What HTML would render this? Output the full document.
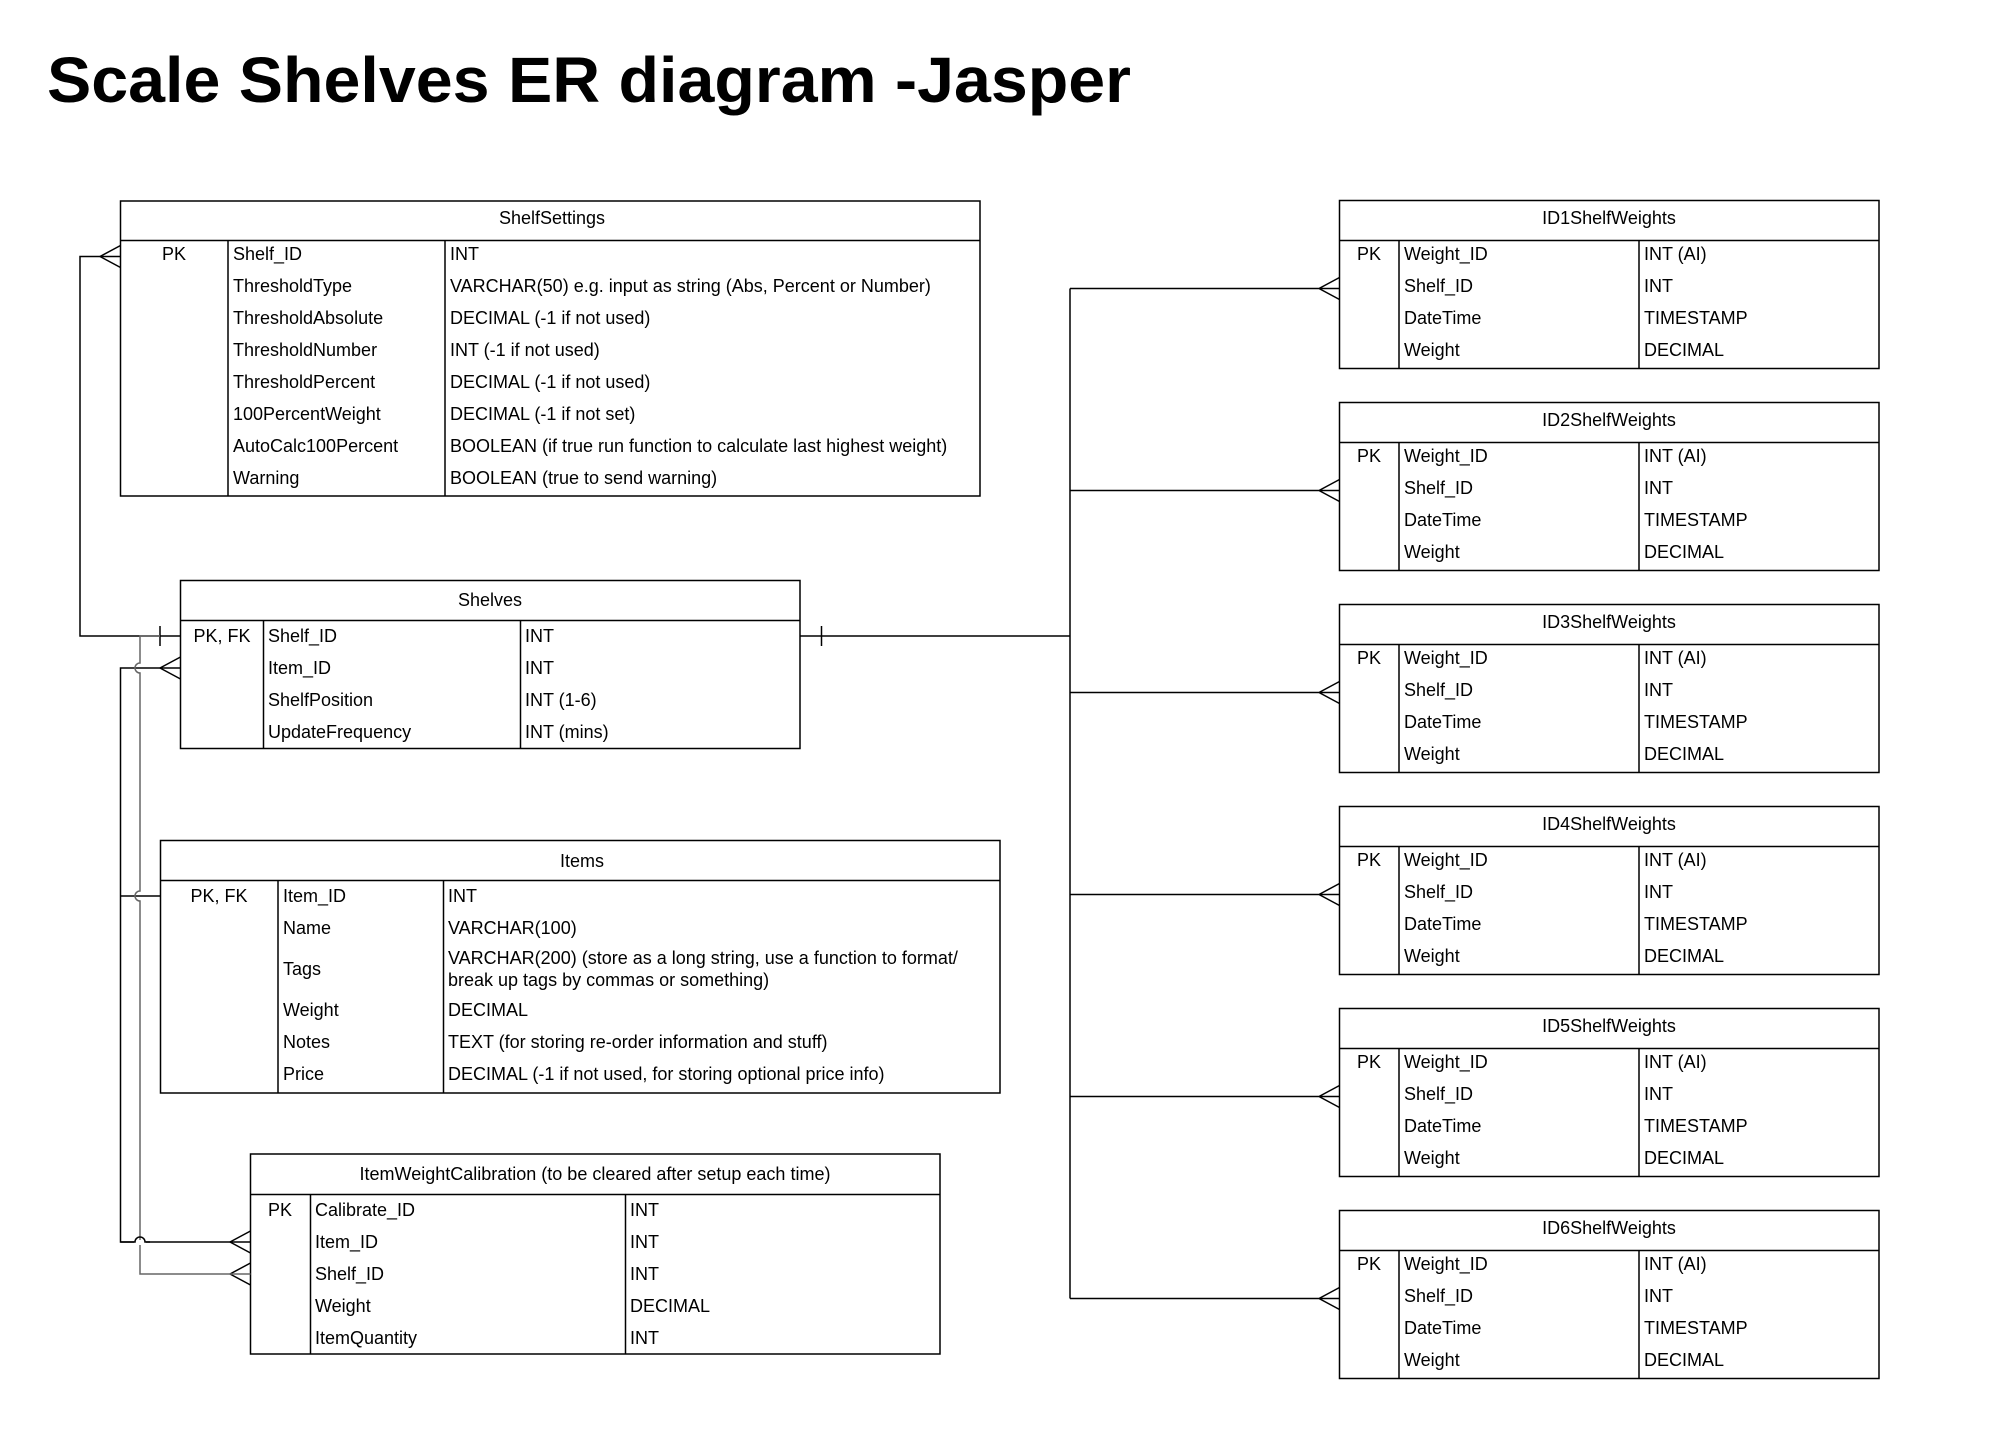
<!DOCTYPE html>
<html><head><meta charset="utf-8"><style>
html,body{margin:0;padding:0;background:#fff}
svg{display:block}
text{font-family:"Liberation Sans",Arial,sans-serif;font-size:18px;fill:#000}
</style></head><body>
<svg width="2000" height="1434" viewBox="0 0 2000 1434" xmlns="http://www.w3.org/2000/svg">
<text x="47" y="102" style="font-size:64px;font-weight:bold" textLength="1084" lengthAdjust="spacingAndGlyphs">Scale Shelves ER diagram -Jasper</text>
<g fill="none" stroke="#000" stroke-width="1.5">
<rect x="120.5" y="201" width="859.5" height="295"/>
<line x1="120.5" y1="240.5" x2="980" y2="240.5"/>
<line x1="228" y1="240.5" x2="228" y2="496"/>
<line x1="445" y1="240.5" x2="445" y2="496"/>
<rect x="180.5" y="580.5" width="619.5" height="168"/>
<line x1="180.5" y1="620.5" x2="800" y2="620.5"/>
<line x1="263.5" y1="620.5" x2="263.5" y2="748.5"/>
<line x1="520.5" y1="620.5" x2="520.5" y2="748.5"/>
<rect x="160.5" y="840.5" width="839.5" height="252.5"/>
<line x1="160.5" y1="880.5" x2="1000" y2="880.5"/>
<line x1="278" y1="880.5" x2="278" y2="1093"/>
<line x1="443.5" y1="880.5" x2="443.5" y2="1093"/>
<rect x="250.5" y="1154" width="689.5" height="200"/>
<line x1="250.5" y1="1194.5" x2="940" y2="1194.5"/>
<line x1="310.5" y1="1194.5" x2="310.5" y2="1354"/>
<line x1="625.5" y1="1194.5" x2="625.5" y2="1354"/>
</g>
<g fill="none" stroke="#000" stroke-width="1.5">
<path d="M120.5 256.5 H80 V636 H180.5"/>
<path d="M100 256.5 L120.5 245.5 M100 256.5 L120.5 267.5"/>
<line x1="160" y1="626" x2="160" y2="646"/>
<path d="M180.5 668 H120.5 V1242 H250.5"/>
<path d="M160 668 L180.5 657 M160 668 L180.5 679"/>
<path d="M120.5 896 H160.5"/>
<path d="M230 1242 L250.5 1231 M230 1242 L250.5 1253"/>
<path d="M230 1274 L250.5 1263 M230 1274 L250.5 1285"/>
<path d="M800 636 H1070"/>
<line x1="821.5" y1="626" x2="821.5" y2="646"/>
<path d="M1070 288.5 V1298.5"/>
</g>
<g fill="none" stroke="#666" stroke-width="1.5">
<path d="M160 636 H140 V663 A5 5 0 0 0 140 673 V891 A5 5 0 0 0 140 901 V1274 H250.5"/>
</g>
<g fill="#fff" stroke="none"><rect x="134" y="1240" width="12" height="5"/></g>
<path d="M120.5 1242 H135 A5 5 0 0 1 145 1242 H150" fill="none" stroke="#000" stroke-width="1.5"/>
<g>
<text x="552" y="224" text-anchor="middle">ShelfSettings</text>
<text x="174" y="260" text-anchor="middle">PK</text>
<text x="233" y="260">Shelf_ID</text><text x="450" y="260">INT</text>
<text x="233" y="292">ThresholdType</text><text x="450" y="292">VARCHAR(50) e.g. input as string (Abs, Percent or Number)</text>
<text x="233" y="324">ThresholdAbsolute</text><text x="450" y="324">DECIMAL (-1 if not used)</text>
<text x="233" y="356">ThresholdNumber</text><text x="450" y="356">INT (-1 if not used)</text>
<text x="233" y="388">ThresholdPercent</text><text x="450" y="388">DECIMAL (-1 if not used)</text>
<text x="233" y="420">100PercentWeight</text><text x="450" y="420">DECIMAL (-1 if not set)</text>
<text x="233" y="452">AutoCalc100Percent</text><text x="450" y="452">BOOLEAN (if true run function to calculate last highest weight)</text>
<text x="233" y="484">Warning</text><text x="450" y="484">BOOLEAN (true to send warning)</text>

<text x="490" y="606" text-anchor="middle">Shelves</text>
<text x="222" y="642" text-anchor="middle">PK, FK</text>
<text x="268" y="642">Shelf_ID</text><text x="525" y="642">INT</text>
<text x="268" y="674">Item_ID</text><text x="525" y="674">INT</text>
<text x="268" y="706">ShelfPosition</text><text x="525" y="706">INT (1-6)</text>
<text x="268" y="738">UpdateFrequency</text><text x="525" y="738">INT (mins)</text>

<text x="582" y="867" text-anchor="middle">Items</text>
<text x="219" y="902" text-anchor="middle">PK, FK</text>
<text x="283" y="902">Item_ID</text><text x="448" y="902">INT</text>
<text x="283" y="934">Name</text><text x="448" y="934">VARCHAR(100)</text>
<text x="283" y="975">Tags</text><text x="448" y="964">VARCHAR(200) (store as a long string, use a function to format/</text>
<text x="448" y="986">break up tags by commas or something)</text>
<text x="283" y="1016">Weight</text><text x="448" y="1016">DECIMAL</text>
<text x="283" y="1048">Notes</text><text x="448" y="1048">TEXT (for storing re-order information and stuff)</text>
<text x="283" y="1080">Price</text><text x="448" y="1080">DECIMAL (-1 if not used, for storing optional price info)</text>

<text x="595" y="1180" text-anchor="middle">ItemWeightCalibration (to be cleared after setup each time)</text>
<text x="280" y="1216" text-anchor="middle">PK</text>
<text x="315" y="1216">Calibrate_ID</text><text x="630" y="1216">INT</text>
<text x="315" y="1248">Item_ID</text><text x="630" y="1248">INT</text>
<text x="315" y="1280">Shelf_ID</text><text x="630" y="1280">INT</text>
<text x="315" y="1312">Weight</text><text x="630" y="1312">DECIMAL</text>
<text x="315" y="1344">ItemQuantity</text><text x="630" y="1344">INT</text>
</g>
<g fill="none" stroke="#000" stroke-width="1.5">
<rect x="1339.5" y="200.5" width="539.5" height="168"/><line x1="1339.5" y1="240.5" x2="1879" y2="240.5"/><line x1="1399" y1="240.5" x2="1399" y2="368.5"/><line x1="1639" y1="240.5" x2="1639" y2="368.5"/><path d="M1070 288.5 H1339.5 M1319 288.5 L1339.5 277.5 M1319 288.5 L1339.5 299.5"/>
<rect x="1339.5" y="402.5" width="539.5" height="168"/><line x1="1339.5" y1="442.5" x2="1879" y2="442.5"/><line x1="1399" y1="442.5" x2="1399" y2="570.5"/><line x1="1639" y1="442.5" x2="1639" y2="570.5"/><path d="M1070 490.5 H1339.5 M1319 490.5 L1339.5 479.5 M1319 490.5 L1339.5 501.5"/>
<rect x="1339.5" y="604.5" width="539.5" height="168"/><line x1="1339.5" y1="644.5" x2="1879" y2="644.5"/><line x1="1399" y1="644.5" x2="1399" y2="772.5"/><line x1="1639" y1="644.5" x2="1639" y2="772.5"/><path d="M1070 692.5 H1339.5 M1319 692.5 L1339.5 681.5 M1319 692.5 L1339.5 703.5"/>
<rect x="1339.5" y="806.5" width="539.5" height="168"/><line x1="1339.5" y1="846.5" x2="1879" y2="846.5"/><line x1="1399" y1="846.5" x2="1399" y2="974.5"/><line x1="1639" y1="846.5" x2="1639" y2="974.5"/><path d="M1070 894.5 H1339.5 M1319 894.5 L1339.5 883.5 M1319 894.5 L1339.5 905.5"/>
<rect x="1339.5" y="1008.5" width="539.5" height="168"/><line x1="1339.5" y1="1048.5" x2="1879" y2="1048.5"/><line x1="1399" y1="1048.5" x2="1399" y2="1176.5"/><line x1="1639" y1="1048.5" x2="1639" y2="1176.5"/><path d="M1070 1096.5 H1339.5 M1319 1096.5 L1339.5 1085.5 M1319 1096.5 L1339.5 1107.5"/>
<rect x="1339.5" y="1210.5" width="539.5" height="168"/><line x1="1339.5" y1="1250.5" x2="1879" y2="1250.5"/><line x1="1399" y1="1250.5" x2="1399" y2="1378.5"/><line x1="1639" y1="1250.5" x2="1639" y2="1378.5"/><path d="M1070 1298.5 H1339.5 M1319 1298.5 L1339.5 1287.5 M1319 1298.5 L1339.5 1309.5"/>
</g>
<g>
<text x="1609" y="224" text-anchor="middle">ID1ShelfWeights</text>
<text x="1369" y="260" text-anchor="middle">PK</text><text x="1404" y="260">Weight_ID</text><text x="1644" y="260">INT (AI)</text>
<text x="1404" y="292">Shelf_ID</text><text x="1644" y="292">INT</text>
<text x="1404" y="324">DateTime</text><text x="1644" y="324">TIMESTAMP</text>
<text x="1404" y="356">Weight</text><text x="1644" y="356">DECIMAL</text>
</g>
<g transform="translate(0,202)">
<text x="1609" y="224" text-anchor="middle">ID2ShelfWeights</text>
<text x="1369" y="260" text-anchor="middle">PK</text><text x="1404" y="260">Weight_ID</text><text x="1644" y="260">INT (AI)</text>
<text x="1404" y="292">Shelf_ID</text><text x="1644" y="292">INT</text>
<text x="1404" y="324">DateTime</text><text x="1644" y="324">TIMESTAMP</text>
<text x="1404" y="356">Weight</text><text x="1644" y="356">DECIMAL</text>
</g>
<g transform="translate(0,404)">
<text x="1609" y="224" text-anchor="middle">ID3ShelfWeights</text>
<text x="1369" y="260" text-anchor="middle">PK</text><text x="1404" y="260">Weight_ID</text><text x="1644" y="260">INT (AI)</text>
<text x="1404" y="292">Shelf_ID</text><text x="1644" y="292">INT</text>
<text x="1404" y="324">DateTime</text><text x="1644" y="324">TIMESTAMP</text>
<text x="1404" y="356">Weight</text><text x="1644" y="356">DECIMAL</text>
</g>
<g transform="translate(0,606)">
<text x="1609" y="224" text-anchor="middle">ID4ShelfWeights</text>
<text x="1369" y="260" text-anchor="middle">PK</text><text x="1404" y="260">Weight_ID</text><text x="1644" y="260">INT (AI)</text>
<text x="1404" y="292">Shelf_ID</text><text x="1644" y="292">INT</text>
<text x="1404" y="324">DateTime</text><text x="1644" y="324">TIMESTAMP</text>
<text x="1404" y="356">Weight</text><text x="1644" y="356">DECIMAL</text>
</g>
<g transform="translate(0,808)">
<text x="1609" y="224" text-anchor="middle">ID5ShelfWeights</text>
<text x="1369" y="260" text-anchor="middle">PK</text><text x="1404" y="260">Weight_ID</text><text x="1644" y="260">INT (AI)</text>
<text x="1404" y="292">Shelf_ID</text><text x="1644" y="292">INT</text>
<text x="1404" y="324">DateTime</text><text x="1644" y="324">TIMESTAMP</text>
<text x="1404" y="356">Weight</text><text x="1644" y="356">DECIMAL</text>
</g>
<g transform="translate(0,1010)">
<text x="1609" y="224" text-anchor="middle">ID6ShelfWeights</text>
<text x="1369" y="260" text-anchor="middle">PK</text><text x="1404" y="260">Weight_ID</text><text x="1644" y="260">INT (AI)</text>
<text x="1404" y="292">Shelf_ID</text><text x="1644" y="292">INT</text>
<text x="1404" y="324">DateTime</text><text x="1644" y="324">TIMESTAMP</text>
<text x="1404" y="356">Weight</text><text x="1644" y="356">DECIMAL</text>
</g>
</svg>
</body></html>
